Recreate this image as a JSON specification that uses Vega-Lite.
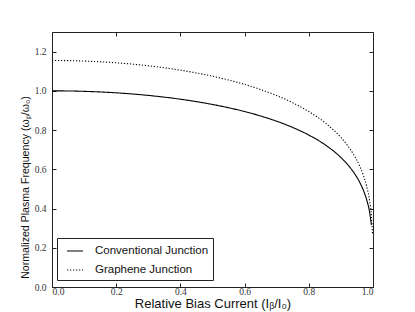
{
  "$schema": "https://vega.github.io/schema/vega-lite/v6.json",
  "width": 321,
  "height": 255,
  "autosize": {"type": "none"},
  "padding": {"left": 52, "top": 32, "right": 42, "bottom": 25},
  "background": "white",
  "config": {
    "view": {"stroke": "#222", "strokeWidth": 1},
    "axis": {
      "grid": false,
      "domain": false,
      "tickColor": "#222",
      "tickSize": -4,
      "labelFont": "Liberation Serif",
      "labelFontSize": 9.5,
      "labelColor": "#333",
      "titleFont": "Liberation Sans",
      "titleFontSize": 13,
      "titleFontWeight": "normal",
      "titleColor": "#111"
    }
  },
  "data": {
    "values": [
      {"x": 0, "y": 1.0, "s": "Conventional Junction"},
      {"x": 0.05, "y": 0.9994, "s": "Conventional Junction"},
      {"x": 0.1, "y": 0.9975, "s": "Conventional Junction"},
      {"x": 0.15, "y": 0.9943, "s": "Conventional Junction"},
      {"x": 0.2, "y": 0.9899, "s": "Conventional Junction"},
      {"x": 0.25, "y": 0.984, "s": "Conventional Junction"},
      {"x": 0.3, "y": 0.9767, "s": "Conventional Junction"},
      {"x": 0.35, "y": 0.9679, "s": "Conventional Junction"},
      {"x": 0.4, "y": 0.9574, "s": "Conventional Junction"},
      {"x": 0.45, "y": 0.945, "s": "Conventional Junction"},
      {"x": 0.5, "y": 0.9306, "s": "Conventional Junction"},
      {"x": 0.55, "y": 0.9139, "s": "Conventional Junction"},
      {"x": 0.6, "y": 0.8944, "s": "Conventional Junction"},
      {"x": 0.65, "y": 0.8717, "s": "Conventional Junction"},
      {"x": 0.7, "y": 0.8451, "s": "Conventional Junction"},
      {"x": 0.75, "y": 0.8133, "s": "Conventional Junction"},
      {"x": 0.8, "y": 0.7746, "s": "Conventional Junction"},
      {"x": 0.85, "y": 0.7258, "s": "Conventional Junction"},
      {"x": 0.9, "y": 0.6602, "s": "Conventional Junction"},
      {"x": 0.92, "y": 0.626, "s": "Conventional Junction"},
      {"x": 0.94, "y": 0.5841, "s": "Conventional Junction"},
      {"x": 0.96, "y": 0.5292, "s": "Conventional Junction"},
      {"x": 0.97, "y": 0.4931, "s": "Conventional Junction"},
      {"x": 0.98, "y": 0.4461, "s": "Conventional Junction"},
      {"x": 0.99, "y": 0.3756, "s": "Conventional Junction"},
      {"x": 0.995, "y": 0.316, "s": "Conventional Junction"},
      {"x": 0, "y": 1.1547, "s": "Graphene Junction"},
      {"x": 0.05, "y": 1.154, "s": "Graphene Junction"},
      {"x": 0.1, "y": 1.1518, "s": "Graphene Junction"},
      {"x": 0.15, "y": 1.1481, "s": "Graphene Junction"},
      {"x": 0.2, "y": 1.143, "s": "Graphene Junction"},
      {"x": 0.25, "y": 1.1362, "s": "Graphene Junction"},
      {"x": 0.3, "y": 1.1278, "s": "Graphene Junction"},
      {"x": 0.35, "y": 1.1176, "s": "Graphene Junction"},
      {"x": 0.4, "y": 1.1055, "s": "Graphene Junction"},
      {"x": 0.45, "y": 1.0912, "s": "Graphene Junction"},
      {"x": 0.5, "y": 1.0746, "s": "Graphene Junction"},
      {"x": 0.55, "y": 1.0552, "s": "Graphene Junction"},
      {"x": 0.6, "y": 1.0328, "s": "Graphene Junction"},
      {"x": 0.65, "y": 1.0066, "s": "Graphene Junction"},
      {"x": 0.7, "y": 0.9758, "s": "Graphene Junction"},
      {"x": 0.75, "y": 0.9391, "s": "Graphene Junction"},
      {"x": 0.8, "y": 0.8944, "s": "Graphene Junction"},
      {"x": 0.85, "y": 0.8381, "s": "Graphene Junction"},
      {"x": 0.9, "y": 0.7624, "s": "Graphene Junction"},
      {"x": 0.92, "y": 0.7229, "s": "Graphene Junction"},
      {"x": 0.94, "y": 0.6745, "s": "Graphene Junction"},
      {"x": 0.96, "y": 0.611, "s": "Graphene Junction"},
      {"x": 0.97, "y": 0.5693, "s": "Graphene Junction"},
      {"x": 0.98, "y": 0.5151, "s": "Graphene Junction"},
      {"x": 0.99, "y": 0.4337, "s": "Graphene Junction"},
      {"x": 0.995, "y": 0.3649, "s": "Graphene Junction"},
      {"x": 0.9985, "y": 0.27, "s": "Graphene Junction"}
    ]
  },
  "resolve": {"axis": {"x": "independent", "y": "independent"}},
  "layer": [
    {
      "mark": {"type": "line", "color": "black", "strokeWidth": 1.1, "interpolate": "monotone"},
      "encoding": {
        "x": {"field": "x", "type": "quantitative", "scale": {"domain": [0, 1], "nice": false},
              "axis": {"orient": "bottom", "values": [0, 0.2, 0.4, 0.6, 0.8, 1.0], "format": ".1f", "labelPadding": 3,
                       "title": "Relative Bias Current (Iᵦ/I₀)", "titleBaseline": "alphabetic", "titleY": 20.5}},
        "y": {"field": "y", "type": "quantitative", "scale": {"domain": [0, 1.3], "nice": false},
              "axis": {"orient": "left", "values": [0, 0.2, 0.4, 0.6, 0.8, 1.0, 1.2], "format": ".1f", "labelPadding": 10,
                       "title": "Normalized Plasma Frequency (ωₚ/ω₀)", "titleFontSize": 10.6, "titleBaseline": "middle", "titleAnchor": "middle", "titleX": -27, "titleY": 155}},
        "strokeDash": {"field": "s", "type": "nominal",
                       "scale": {"domain": ["Conventional Junction", "Graphene Junction"], "range": [[1, 0], [1.2, 1.8]]},
                       "legend": {"title": null, "orient": "none", "legendX": 5, "legendY": 206,
                                  "symbolType": "stroke", "symbolSize": 256, "symbolStrokeWidth": 1.1, "symbolStrokeColor": "black",
                                  "symbolOffset": 5,
                                  "labelFont": "Liberation Sans", "labelFontSize": 11.5, "labelColor": "#111", "labelOffset": 11,
                                  "strokeColor": "#222", "fillColor": "white", "padding": 4, "rowPadding": 4, "labelLimit": 300}},
        "detail": {"field": "s"}
      }
    },
    {
      "mark": {"type": "point", "opacity": 0},
      "encoding": {
        "x": {"field": "x", "type": "quantitative", "scale": {"domain": [0, 1], "nice": false},
              "axis": {"orient": "top", "values": [0, 0.2, 0.4, 0.6, 0.8, 1.0], "labels": false, "title": null}},
        "y": {"field": "y", "type": "quantitative", "scale": {"domain": [0, 1.3], "nice": false},
              "axis": {"orient": "right", "values": [0, 0.2, 0.4, 0.6, 0.8, 1.0, 1.2], "labels": false, "title": null}}
      }
    }
  ]
}
